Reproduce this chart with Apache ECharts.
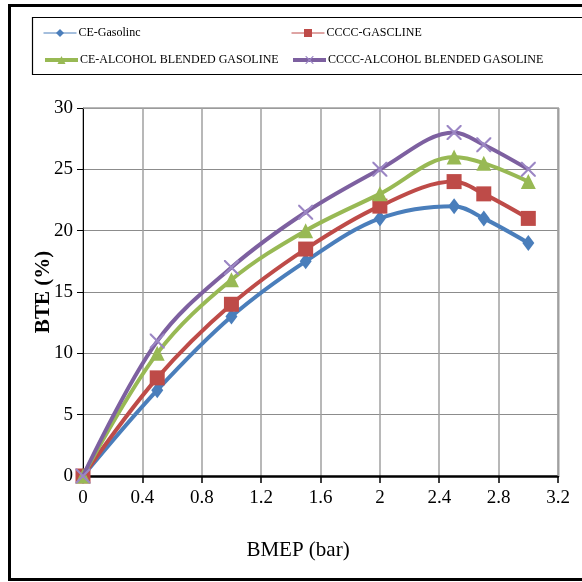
<!DOCTYPE html>
<html><head><meta charset="utf-8">
<script src="https://cdn.jsdelivr.net/npm/echarts@6/dist/echarts.min.js"></script>
<style>html,body{margin:0;padding:0;background:#fff}#c{width:582px;height:582px}</style>
</head><body><div id="c"></div>
<script>
const bmep = [0, 0.5, 1.0, 1.5, 2.0, 2.5, 2.7, 3.0];
const ceGasoline = [0, 7, 13, 17.5, 21, 22, 21, 19];
const ccccGasoline = [0, 8, 14, 18.5, 22, 24, 23, 21];
const ceAlcohol = [0, 10, 16, 20, 23, 26, 25.5, 24];
const ccccAlcohol = [0, 11, 17, 21.5, 25, 28, 27, 25];
const seriesNames = ['CE-Gasolinc', 'CCCC-GASCLINE', 'CE-ALCOHOL BLENDED GASOLINE', 'CCCC-ALCOHOL BLENDED GASOLINE'];
const xTicks = [0, 0.4, 0.8, 1.2, 1.6, 2, 2.4, 2.8, 3.2];
const yTicks = [0, 5, 10, 15, 20, 25, 30];

const colors = ['#4A7EBB', '#BE4B48', '#98B954', '#7D60A0'];
const xPath = 'path://M0,0 L2,0 L10,8 L18,0 L20,0 L20,2 L12,10 L20,18 L20,20 L18,20 L10,12 L2,20 L0,20 L0,18 L8,10 L0,2 Z';
const symbols = ['diamond', 'rect', 'triangle', xPath];
const symSizes = [[12, 16], 15, 15, 15];
const data = [ceGasoline, ccccGasoline, ceAlcohol, ccccAlcohol];
const font = '"Liberation Serif", "Times New Roman", serif';

const series = data.map((vals, i) => ({
  name: seriesNames[i],
  type: 'line',
  smooth: 0.35,
  data: bmep.map((x, j) => [x, vals[j]]),
  symbol: symbols[i],
  symbolSize: symSizes[i],
  showAllSymbol: true,
  lineStyle: { color: colors[i], width: 4 },
  itemStyle: { color: i === 3 ? '#9b86c4' : colors[i] },
  z: 2 + i
}));

const legendPos = [[38, 22], [286, 22], [38, 49], [286, 49]];
const legendLineW = [1, 1, 4, 4];
const legends = seriesNames.map((n, i) => ({
  left: legendPos[i][0], top: legendPos[i][1],
  itemWidth: 33, itemHeight: 10, itemGap: 0,
  textStyle: { fontFamily: font, fontSize: 12, color: '#000', padding: [0, 0, 0, -3] },
  data: [{ name: n, lineStyle: { width: legendLineW[i] } }],
  selectedMode: false
}));

const chart = echarts.init(document.getElementById('c'), null, { renderer: 'canvas' });
chart.setOption({
  animation: false,
  backgroundColor: '#fff',
  legend: legends,
  grid: { left: 83, right: 24, top: 108, bottom: 106, containLabel: false },
  xAxis: {
    type: 'value', min: 0, max: 3.2, interval: 0.4,
    axisLine: { show: true, onZero: false, lineStyle: { color: '#000', width: 2.5 } },
    axisTick: { show: true, length: 7, lineStyle: { color: '#000', width: 1.5 } },
    axisLabel: { margin: 13, fontFamily: font, fontSize: 19, color: '#000',
      formatter: v => { const t = xTicks.find(k => Math.abs(k - v) < 1e-6); return t === undefined ? '' : String(t); } },
    splitLine: { show: true, lineStyle: { color: '#a0a0a0', width: 1.5 } }
  },
  yAxis: {
    type: 'value', min: 0, max: 30, interval: 5,
    axisLine: { show: true, lineStyle: { color: '#000', width: 1 } },
    axisTick: { show: true, length: 6, lineStyle: { color: '#000' } },
    axisLabel: { margin: 10, fontFamily: font, fontSize: 19, color: '#000',
      formatter: v => { const t = yTicks.find(k => Math.abs(k - v) < 1e-6); return t === undefined ? '' : String(t); } },
    splitLine: { show: true, lineStyle: { color: '#8c8c8c', width: 1 } }
  },
  graphic: [
    { type: 'rect', left: 7, top: 3, shape: { width: 600, height: 574 }, style: { fill: null, stroke: '#000', lineWidth: 3 }, z: 100 },
    { type: 'rect', left: 30, top: 15, shape: { width: 600, height: 57 }, style: { fill: null, stroke: '#000', lineWidth: 1.2 }, z: 100 },
    { type: 'line', shape: { x1: 83, y1: 108, x2: 559, y2: 108 }, style: { stroke: '#a0a0a0', lineWidth: 1.5 }, z: 1 },
    { type: 'line', shape: { x1: 558.5, y1: 108, x2: 558.5, y2: 476 }, style: { stroke: '#a0a0a0', lineWidth: 2 }, z: 1 },
    { type: 'text', x: 298, y: 550, style: { text: 'BMEP (bar)', font: '21px ' + font, fill: '#000', textAlign: 'center', textVerticalAlign: 'middle' }, z: 100 },
    { type: 'text', x: 44, y: 292, rotation: Math.PI / 2, style: { text: 'BTE (%)', font: 'bold 21px ' + font, fill: '#000', textAlign: 'center', textVerticalAlign: 'middle' }, z: 100 }
  ],
  series: series
});
</script></body></html>
